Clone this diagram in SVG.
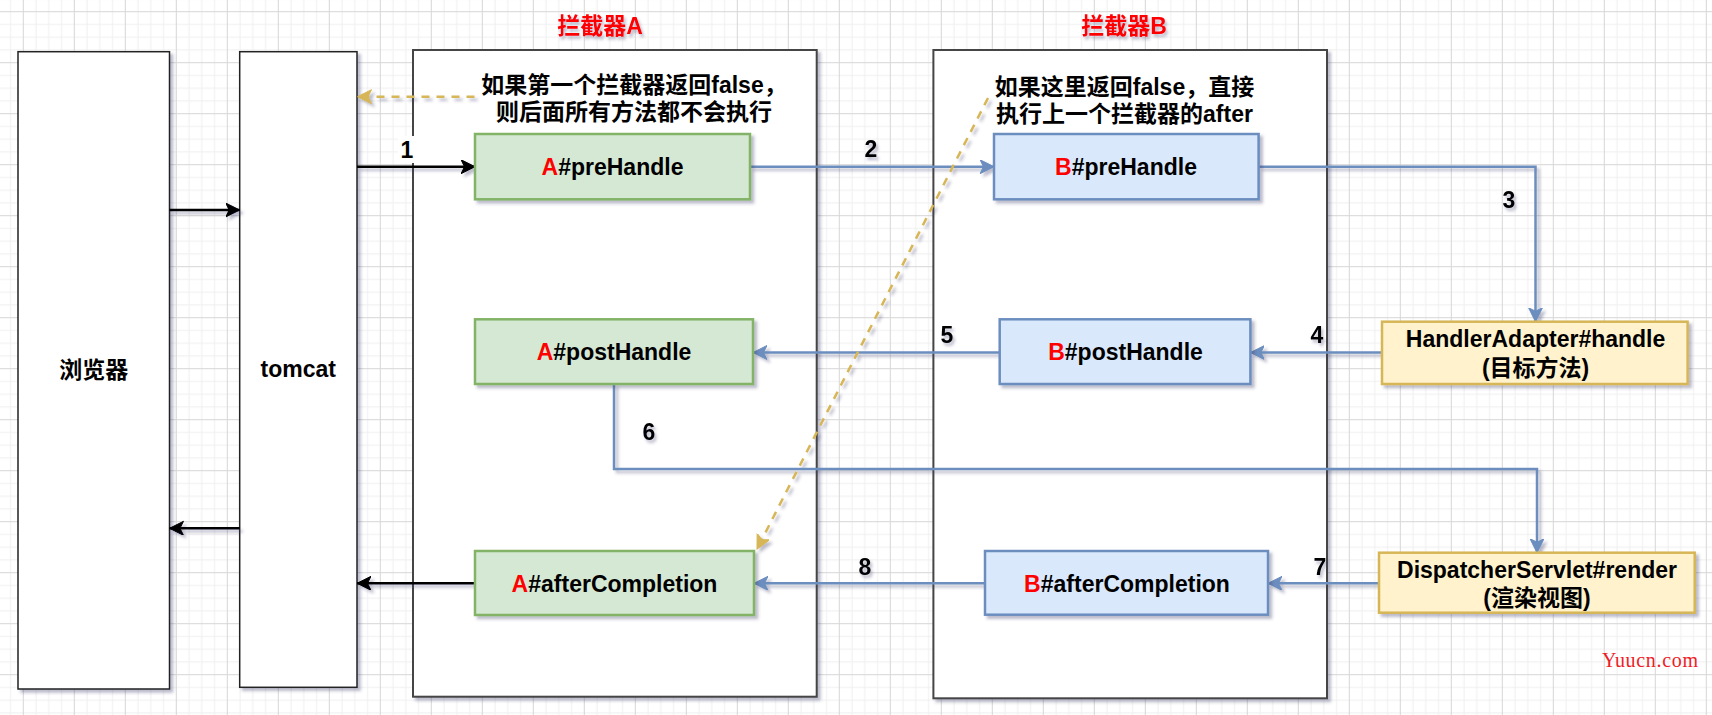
<svg xmlns="http://www.w3.org/2000/svg" width="1712" height="715" viewBox="0 0 1712 715">
  <defs>
    <pattern id="grid" patternUnits="userSpaceOnUse" x="22.8" y="11.2" width="51" height="51">
      <path d="M13.25,0 V51 M26,0 V51 M38.75,0 V51 M0,13.25 H51 M0,26 H51 M0,38.75 H51" stroke="#efefef" stroke-width="1" fill="none"/>
      <path d="M0.5,0 V51 M0,0.5 H51" stroke="#d6d6d6" stroke-width="1" fill="none"/>
    </pattern>
    <filter id="shadow" filterUnits="userSpaceOnUse" x="0" y="0" width="1712" height="715">
      <feDropShadow dx="3" dy="3" stdDeviation="1.8" flood-color="#3b3b6b" flood-opacity="0.35"/>
    </filter>
    <filter id="tshadow" filterUnits="userSpaceOnUse" x="0" y="0" width="1712" height="715">
      <feDropShadow dx="2" dy="3" stdDeviation="1.6" flood-color="#3b3b6b" flood-opacity="0.35"/>
    </filter>
    <marker id="arrBlack" markerUnits="userSpaceOnUse" markerWidth="15" markerHeight="15" refX="14" refY="7" orient="auto" viewBox="0 0 15 15">
      <path d="M14,7 L0,0 L3.5,7 L0,14 Z" fill="#000" stroke="#000" stroke-width="1"/>
    </marker>
    <marker id="arrBlue" markerUnits="userSpaceOnUse" markerWidth="15" markerHeight="15" refX="14" refY="7" orient="auto" viewBox="0 0 15 15">
      <path d="M14,7 L0,0 L3.5,7 L0,14 Z" fill="#6c8ebf" stroke="#6c8ebf" stroke-width="1"/>
    </marker>
    <marker id="arrYellow" markerUnits="userSpaceOnUse" markerWidth="15" markerHeight="15" refX="14" refY="7" orient="auto" viewBox="0 0 15 15">
      <path d="M14,7 L0,0 L3.5,7 L0,14 Z" fill="#d6b656" stroke="#d6b656" stroke-width="1"/>
    </marker>
    <style>
      text { font-family: "Liberation Sans", Arial, "Noto Sans CJK SC", sans-serif; font-weight: bold; font-size: 23px; fill: #000; }
      .mid { text-anchor: middle; }
      .red { fill: #ff0000; }
      .title { fill: #ff0000; text-anchor: middle; filter: url(#tshadow); }
      .num { text-anchor: middle; filter: url(#tshadow); }
      .plain { fill: #fff; stroke: #222; stroke-width: 1.5; }
      .cont { fill: #fff; stroke: #444; stroke-width: 2; }
      .green { fill: #d5e8d4; stroke: #82b366; stroke-width: 2.5; }
      .blue { fill: #dae8fc; stroke: #6c8ebf; stroke-width: 2.5; }
      .yellow { fill: #fff2cc; stroke: #d6b656; stroke-width: 2.5; }
      .eb { fill: none; stroke: #000; stroke-width: 2.5; marker-end: url(#arrBlack); }
      .eu { fill: none; stroke: #6c8ebf; stroke-width: 2.5; marker-end: url(#arrBlue); }
      .ey { fill: none; stroke: #d6b656; stroke-width: 2.5; stroke-dasharray: 8 7; marker-end: url(#arrYellow); }
      .wm { font-family: "Liberation Serif", "Times New Roman", serif; font-weight: normal; font-size: 20px; fill: #ee1c25; }
    </style>
  </defs>

  <rect x="0" y="0" width="1712" height="715" fill="#ffffff"/>
  <rect x="0" y="0" width="1712" height="715" fill="url(#grid)"/>

  <g id="browser">
    <rect class="plain" x="18" y="51.7" width="151.5" height="637.3" filter="url(#shadow)"/>
    <text class="mid" x="93.8" y="378">浏览器</text>
  </g>
  <g id="tomcat">
    <rect class="plain" x="239.7" y="51.7" width="117.3" height="635.6" filter="url(#shadow)"/>
    <text class="mid" x="298.3" y="377.3">tomcat</text>
  </g>

  <g id="interceptorA">
    <rect class="cont" x="413" y="50" width="403.7" height="646.7" filter="url(#shadow)"/>
    <text class="title" x="600" y="33.5">拦截器A</text>
  </g>
  <g id="interceptorB">
    <rect class="cont" x="933.4" y="50" width="393.6" height="648.3" filter="url(#shadow)"/>
    <text class="title" x="1124" y="33.5">拦截器B</text>
  </g>

  <g id="noteA">
    <text class="mid" x="634" y="93">如果第一个拦截器返回false，</text>
    <text class="mid" x="634" y="120">则后面所有方法都不会执行</text>
  </g>
  <g id="noteB">
    <text class="mid" x="1124.5" y="94.7">如果这里返回false，直接</text>
    <text class="mid" x="1124.5" y="121.5">执行上一个拦截器的after</text>
  </g>

  <g id="connectors">
    <g filter="url(#shadow)">
      <line class="eb" x1="169.5" y1="210" x2="239.7" y2="210"/>
      <line class="eb" x1="239.7" y1="528.3" x2="169.5" y2="528.3"/>
      <line class="eb" x1="357" y1="166.7" x2="475" y2="166.7"/>
      <line class="eu" x1="750" y1="166.7" x2="994" y2="166.7"/>
      <polyline class="eu" points="1258.6,166.7 1535.5,166.7 1535.5,321.7"/>
      <line class="eu" x1="1382" y1="352.5" x2="1250.4" y2="352.5"/>
      <line class="eu" x1="999.7" y1="352.5" x2="753" y2="352.5"/>
      <polyline class="eu" points="614,384 614,469 1537,469 1537,552.7"/>
      <line class="eu" x1="1379" y1="583.3" x2="1268" y2="583.3"/>
      <line class="eu" x1="985" y1="583.3" x2="754" y2="583.3"/>
      <line class="eb" x1="475" y1="583.3" x2="357" y2="583.3"/>
      <line class="ey" x1="474.5" y1="96.7" x2="357.5" y2="96.7"/>
      <line class="ey" x1="988" y1="98" x2="757" y2="549"/>
    </g>
    <rect x="398" y="136" width="16" height="27" fill="#fff"/>
    <text class="mid" x="407" y="158">1</text>
    <text class="num" x="871" y="156.7">2</text>
    <text class="num" x="1509" y="208">3</text>
    <text class="num" x="1317" y="343">4</text>
    <text class="num" x="947" y="342.7">5</text>
    <text class="num" x="649" y="440">6</text>
    <text class="num" x="1320" y="575">7</text>
    <text class="num" x="865" y="575">8</text>
  </g>

  <g id="A_preHandle">
    <rect class="green" x="475" y="134" width="275" height="65.3" filter="url(#shadow)"/>
    <text class="mid" x="612.5" y="175"><tspan class="red">A</tspan>#preHandle</text>
  </g>
  <g id="A_postHandle">
    <rect class="green" x="475" y="319.3" width="278" height="64.7" filter="url(#shadow)"/>
    <text class="mid" x="614" y="359.5"><tspan class="red">A</tspan>#postHandle</text>
  </g>
  <g id="A_afterCompletion">
    <rect class="green" x="475" y="551" width="279" height="64" filter="url(#shadow)"/>
    <text class="mid" x="614.5" y="591.5"><tspan class="red">A</tspan>#afterCompletion</text>
  </g>
  <g id="B_preHandle">
    <rect class="blue" x="994" y="134" width="264.6" height="65.3" filter="url(#shadow)"/>
    <text class="mid" x="1126" y="175"><tspan class="red">B</tspan>#preHandle</text>
  </g>
  <g id="B_postHandle">
    <rect class="blue" x="999.7" y="319.3" width="250.7" height="64.7" filter="url(#shadow)"/>
    <text class="mid" x="1125.5" y="359.5"><tspan class="red">B</tspan>#postHandle</text>
  </g>
  <g id="B_afterCompletion">
    <rect class="blue" x="985" y="551" width="283" height="63.7" filter="url(#shadow)"/>
    <text class="mid" x="1127" y="591.5"><tspan class="red">B</tspan>#afterCompletion</text>
  </g>
  <g id="HandlerAdapter">
    <rect class="yellow" x="1382" y="321.7" width="305.6" height="62.3" filter="url(#shadow)"/>
    <text class="mid" x="1535.6" y="347.3">HandlerAdapter#handle</text>
    <text class="mid" x="1535.6" y="376">(目标方法)</text>
  </g>
  <g id="DispatcherServlet">
    <rect class="yellow" x="1379" y="552.7" width="315.7" height="60" filter="url(#shadow)"/>
    <text class="mid" x="1537" y="578">DispatcherServlet#render</text>
    <text class="mid" x="1537" y="606">(渲染视图)</text>
  </g>

  <text class="wm" x="1602" y="667" textLength="96">Yuucn.com</text>
</svg>
